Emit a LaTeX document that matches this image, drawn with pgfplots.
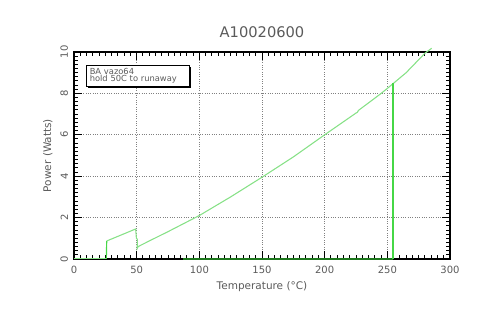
\documentclass[border=0pt]{standalone}
\usepackage{fontspec}
\setmainfont{DejaVu Sans}
\usepackage{pgfplots}
\pgfplotsset{compat=1.18}
\usetikzlibrary{shadows}
\definecolor{lgreen}{RGB}{135,225,135}
\definecolor{bgreen}{RGB}{70,215,70}
\definecolor{dgreen}{RGB}{30,120,30}
\definecolor{txt}{RGB}{90,90,90}
\begin{document}
\begin{tikzpicture}
\path[use as bounding box] (0,0) rectangle (300pt,194.4pt);
\begin{axis}[
  at={(44.4pt,39pt)}, anchor=south west,
  scale only axis, width=225.6pt, height=124.2pt,
  xmin=0, xmax=300, ymin=0, ymax=10,
  xtick={0,50,...,300}, ytick={0,2,...,10},
  minor x tick num=9, minor y tick num=9,
  tick align=inside, major tick length=4.6pt, minor tick length=2.6pt,
  every tick/.style={black, line width=0.6pt},
  axis line style={line width=1.1pt},
  grid=major, major grid style={densely dotted, gray, line width=0.4pt},
  clip=false,
  /pgf/number format/assume math mode=true,
  ticklabel style={font=\fontsize{6}{7}\selectfont, text=txt},
  yticklabel style={rotate=90, anchor=south},
  xticklabel style={yshift=-0.5pt},
  label style={font=\fontsize{6.3}{7}\selectfont, text=txt},
  xlabel={Temperature (°C)},
  ylabel={Power (Watts)},
  xlabel style={yshift=2pt},
  ylabel style={yshift=-2pt},
  title={A10020600},
  title style={font=\fontsize{8.8}{9}\selectfont, text=txt, yshift=-1pt},
]
\addplot[dgreen, line width=1.2pt] coordinates {
  (87,0) (254.5,0)
};
% heating trace
\addplot[lgreen, line width=0.6pt] coordinates {
  (0,0) (25.8,0)
};
\addplot[bgreen, line width=0.7pt] coordinates {
  (25.8,0) (26.1,0.87)
};
\addplot[lgreen, line width=0.65pt] coordinates {
  (26.1,0.87) (49.2,1.45) (49.8,1.0) (50.6,0.95) (50.4,0.5) (51.2,0.6)
  (60,0.87) (75,1.32) (100,2.1) (125,3.0) (150,3.95) (175,4.93)
  (200,6.0) (225,7.05) (226,7.08) (227,7.18) (244,7.95) (250,8.24)
  (265,9.0) (280,9.94) (285.4,10.18)
};
% drop
\addplot[bgreen, line width=0.7pt] coordinates {
  (254.5,8.5) (254.5,0)
};
\node[draw, fill=white, line width=0.5pt, inner xsep=2pt, inner ysep=1.6pt,
  align=left, text width=58pt,
  anchor=north west, text=txt, font=\fontsize{5}{4.6}\selectfont,
  general shadow={fill=black, shadow xshift=0.7pt, shadow yshift=-0.7pt}]
  at (rel axis cs:0.032,0.937) {BA vazo64\\hold 50C to runaway};
\end{axis}
\end{tikzpicture}
\end{document}
